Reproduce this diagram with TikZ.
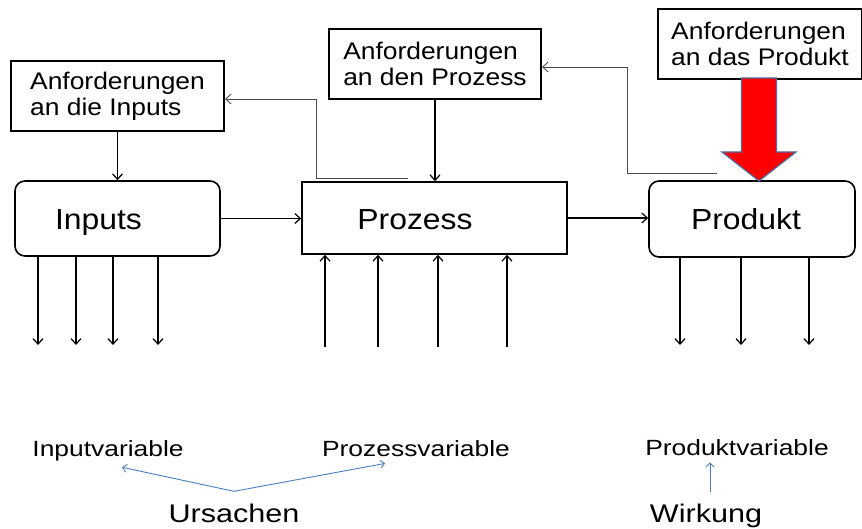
\documentclass[tikz,border=0pt]{standalone}
\usepackage{fontspec}
\setmainfont{Liberation Sans}[FakeStretch=1.1]
\newfontfamily\varfont{Liberation Sans}[FakeStretch=1.2]
\usepackage{tikz}
\usetikzlibrary{positioning}
\usetikzlibrary{calc}
\usetikzlibrary{arrows.meta}
\definecolor{rahmenblau}{RGB}{79,110,160}
\definecolor{pfeilblau}{RGB}{74,126,187}
\tikzset{
    anf/.style={draw, line width=2pt, align=left, minimum height=70pt, anchor=north west, font=\fontsize{24}{26}\selectfont},
    block/.style={draw, line width=1.6pt, inner sep=0pt},
    pf/.style={-{Straight Barb[length=5.5pt,width=10pt]}, line width=1.2pt},
    rueck/.style={pf, draw=black!70, line width=0.9pt},
    gross/.style={anchor=base, inner sep=2pt, font=\fontsize{29}{31}\selectfont},
    var/.style={anchor=base, inner sep=2pt, font=\varfont\fontsize{22}{24}\selectfont},
    wort/.style={anchor=base, inner sep=2pt, font=\varfont\fontsize{25.5}{27}\selectfont},
    blau/.style={-{Straight Barb[length=4pt,width=8pt]}, draw=pfeilblau, line width=0.9pt}
}
\begin{document}
\begin{tikzpicture}[x=1pt,y=-1pt]
            \useasboundingbox (0,0) rectangle (862,529);
            \node[anf, minimum width=213pt] (ain) at (10,60) {Anforderungen\\an die Inputs};
            \node[anf, minimum width=212pt] (aproz) at (328,28) {Anforderungen\\an den Prozess};
            \node[anf, minimum width=204pt] (aprod) at (657,8) {Anforderungen\\an das Produkt};
            \node[block, rounded corners=10pt, minimum width=205pt, minimum height=75pt] (inp) at (117.5,218.5) {};
            \node[block, minimum width=265pt, minimum height=72pt] (proz) at (434.5,218) {};
            \node[block, rounded corners=10pt, minimum width=206pt, minimum height=76pt] (prod) at (752,219) {};
            \node[gross] (tinp) at (98.5,230) {Inputs};
            \node[gross] (tproz) at (415,230) {Prozess};
            \node[gross] (tprod) at (746,230) {Produkt};
            \draw[pf] (ain.south) -- (ain.south |- inp.north);
            \draw[pf] (aproz.south) -- (aproz.south |- proz.north);
            \draw[pf] (inp.east) -- (inp.east -| proz.west);
            \draw[pf] (proz.east) -- (proz.east -| prod.west);
            \coordinate (r1) at (408,178.5);
            \coordinate (r2) at (717,173);
            \draw[rueck] (r1) -- ++(-92,0) |- ([yshift=-3pt]ain.east);
            \draw[rueck] (r2) -- ++(-90,0) |- ([yshift=-3pt]aproz.east);
            \coordinate (spitze) at (759,181);
            \draw[fill=red, draw=rahmenblau, line width=1.2pt] ($(spitze)+(-17.5,-103)$) -- ($(spitze)+(17.5,-103)$) -- ($(spitze)+(17.5,-29)$) -- ($(spitze)+(37,-29)$) -- (spitze) -- ($(spitze)+(-37,-29)$) -- ($(spitze)+(-17.5,-29)$) -- cycle;
            \foreach \x [count=\i] in {38,76,113,158} {
                \coordinate (iv\i) at (\x,345);
                \draw[pf] (iv\i |- inp.south) -- (iv\i);
            }
            \foreach \x [count=\i] in {325,378,438,507} {
                \coordinate (pv\i) at (\x,347);
                \draw[pf] (pv\i) -- (pv\i |- proz.south);
            }
            \foreach \x [count=\i] in {680,741,809} {
                \coordinate (dv\i) at (\x,345);
                \draw[pf] (dv\i |- prod.south) -- (dv\i);
            }
            \node[var] (ivar) at (108,456) {Inputvariable};
            \node[var] (pvar) at (416,456) {Prozessvariable};
            \node[var] (dvar) at (737,455) {Produktvariable};
            \node[wort] (urs) at (234,522) {Ursachen};
            \node[wort] (wirk) at (706,522) {Wirkung};
            \draw[blau] ([yshift=10pt]urs.north) -- ([xshift=14pt,yshift=-4.5pt]ivar.south);
            \draw[blau] ([yshift=10pt]urs.north) -- ([xshift=-31pt,yshift=-5pt]pvar.south);
            \draw[blau] ([xshift=4pt,yshift=9pt]wirk.north) -- ([xshift=-27pt,yshift=-5pt]dvar.south);
\end{tikzpicture}
\end{document}
